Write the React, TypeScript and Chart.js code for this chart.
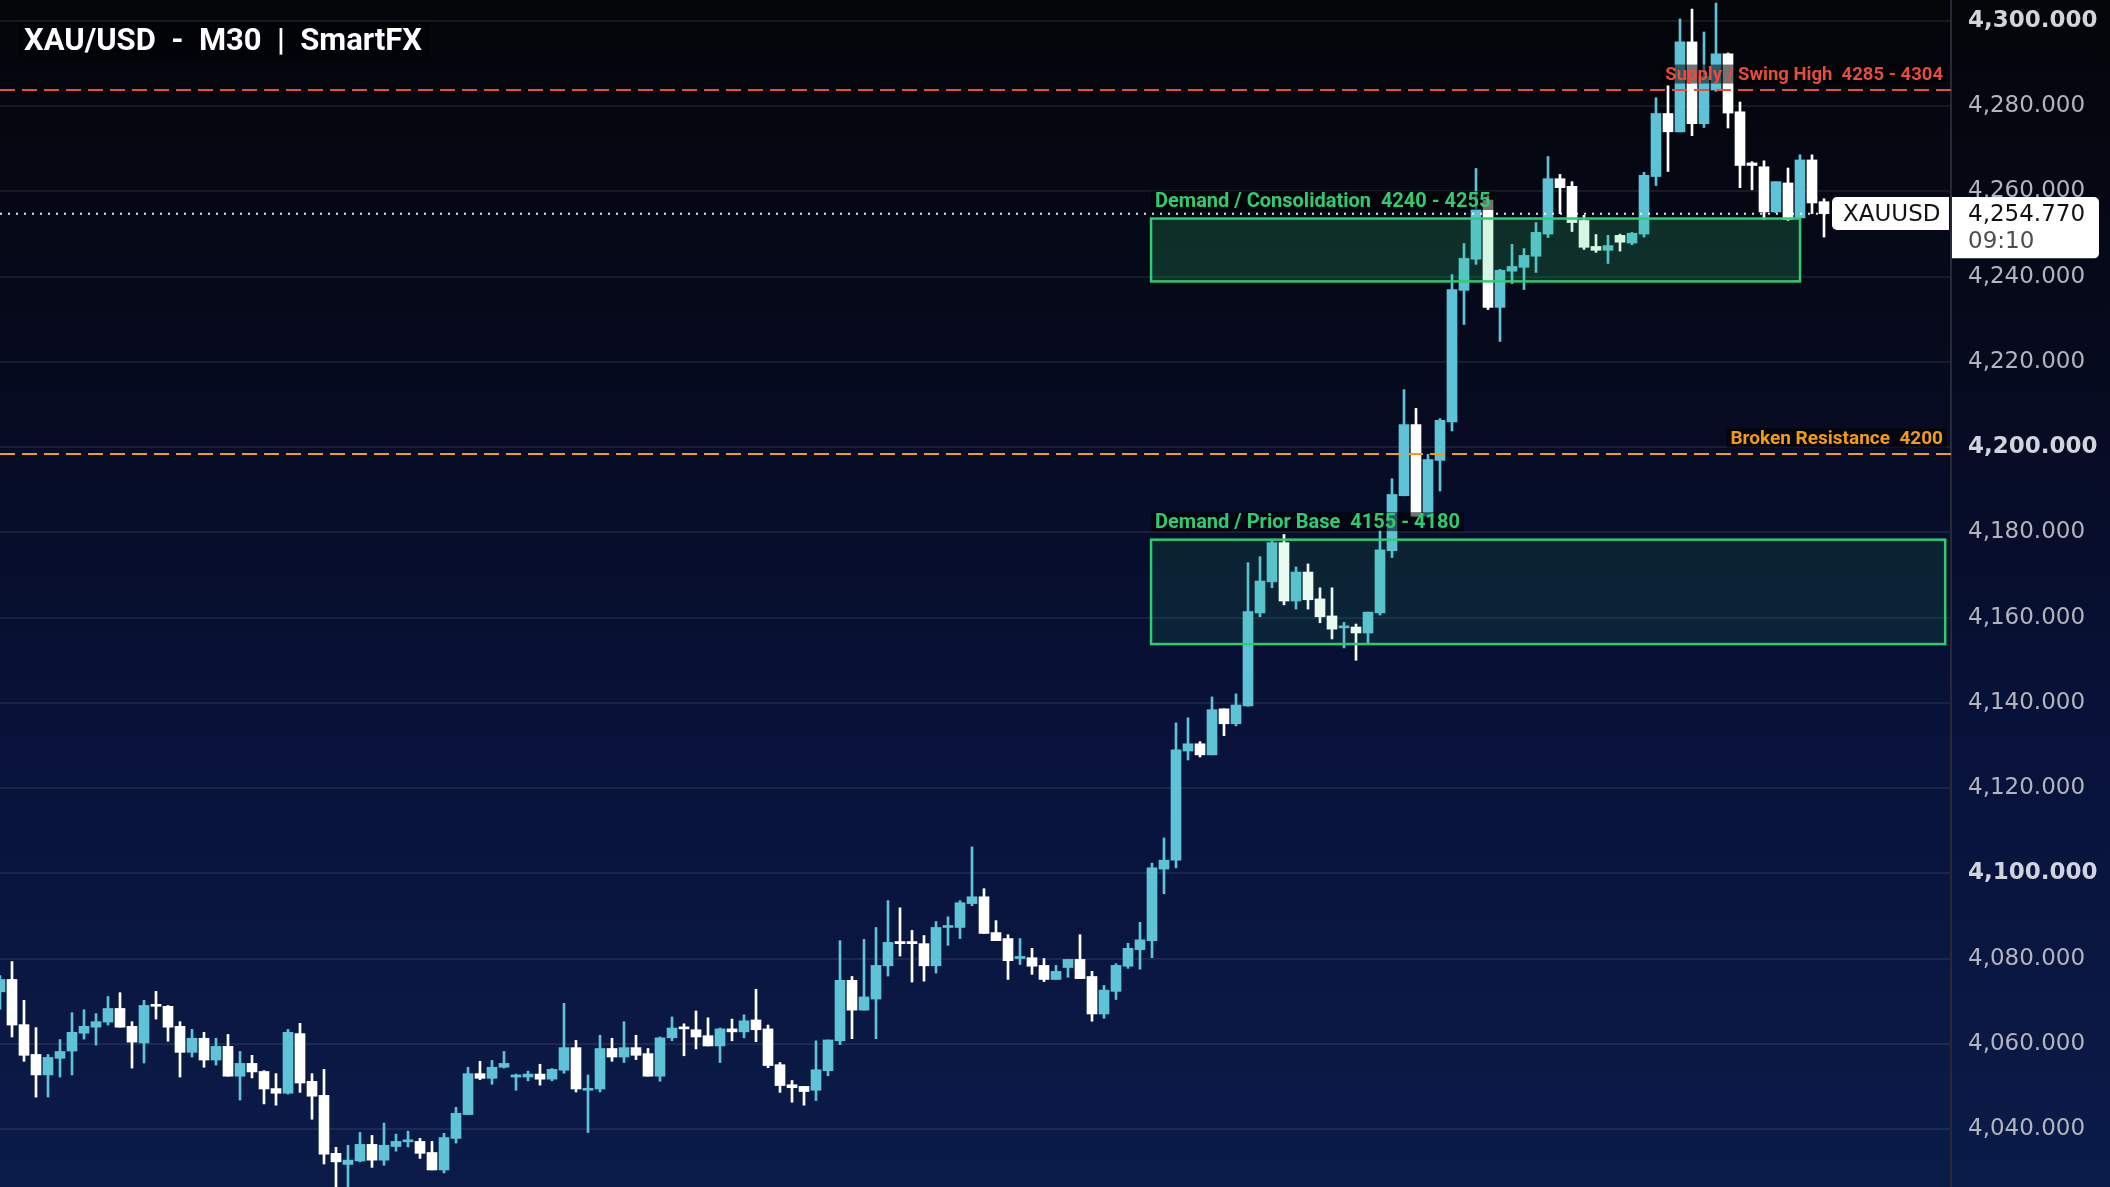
import React, { useEffect, useRef } from 'react';
import { Chart, registerables } from 'chart.js';

Chart.register(...registerables);

// ---- data (M30 candles, index = bar number) ----
const OPEN = [
  4072.2, 4075.1, 4064.5, 4057.5, 4052.7, 4056.6, 4058.3, 4062.5, 4063.9, 4065.1,
  4068.3, 4064.1, 4060.2, 4069.2, 4068.8, 4064.1, 4058.0, 4061.3, 4056.2, 4059.4,
  4052.4, 4055.4, 4053.5, 4049.5, 4048.4, 4062.4, 4051.2, 4047.9, 4034.3, 4031.7,
  4032.5, 4036.4, 4032.7, 4035.9, 4037.0, 4037.1, 4034.5, 4030.4, 4037.8, 4043.4,
  4053.0, 4051.9, 4054.5, 4052.2, 4052.2, 4052.9, 4051.7, 4053.8, 4059.1, 4049.1,
  4049.4, 4058.9, 4056.9, 4059.1, 4057.7, 4052.4, 4061.4, 4063.9, 4063.3, 4061.9,
  4059.5, 4063.5, 4062.8, 4065.6, 4063.5, 4055.1, 4050.4, 4050.0, 4049.1, 4053.7,
  4060.7, 4074.9, 4067.9, 4070.5, 4078.3, 4084.0, 4084.0, 4083.5, 4078.3, 4087.3,
  4087.3, 4092.9, 4094.5, 4086.1, 4084.7, 4080.0, 4080.2, 4078.4, 4075.1, 4077.9,
  4079.8, 4075.8, 4067.0, 4072.3, 4078.2, 4082.1, 4084.2, 4101.0, 4103.1, 4128.7,
  4130.4, 4127.8, 4138.6, 4135.1, 4139.3, 4161.1, 4168.4, 4177.6, 4163.9, 4170.7,
  4164.4, 4160.4, 4157.6, 4157.8, 4156.4, 4161.1, 4175.7, 4188.6, 4205.3, 4183.8,
  4196.9, 4205.9, 4236.8, 4244.1, 4258.0, 4232.8, 4241.3, 4242.2, 4244.8, 4250.0,
  4263.0, 4261.2, 4253.2, 4247.1, 4246.2, 4249.7, 4247.9, 4250.0, 4263.5, 4278.3,
  4274.0, 4295.1, 4275.9, 4283.8, 4292.3, 4278.7, 4266.7, 4265.8, 4255.2, 4262.0,
  4253.8, 4267.4, 4257.6,
];
const HIGH = [
  4076.0, 4079.3, 4070.2, 4063.8, 4057.5, 4061.0, 4067.3, 4068.0, 4067.1, 4071.1,
  4072.0, 4065.2, 4070.2, 4072.3, 4069.0, 4065.2, 4063.4, 4062.7, 4061.3, 4062.2,
  4058.2, 4057.3, 4053.7, 4053.0, 4063.4, 4064.8, 4053.0, 4054.0, 4035.7, 4036.2,
  4039.2, 4038.5, 4041.4, 4038.8, 4039.5, 4037.8, 4037.1, 4039.0, 4045.1, 4054.5,
  4055.9, 4056.1, 4058.2, 4052.9, 4053.6, 4055.2, 4054.2, 4069.5, 4060.8, 4052.7,
  4062.0, 4061.3, 4065.2, 4062.0, 4058.9, 4061.6, 4066.3, 4064.7, 4067.7, 4066.1,
  4063.7, 4065.8, 4066.8, 4072.8, 4064.4, 4055.6, 4051.4, 4050.0, 4060.7, 4060.9,
  4084.2, 4075.8, 4084.5, 4087.3, 4093.6, 4091.9, 4086.6, 4085.4, 4088.7, 4089.8,
  4093.6, 4106.2, 4096.4, 4088.9, 4085.6, 4084.7, 4082.4, 4080.0, 4078.4, 4079.8,
  4085.6, 4077.0, 4073.7, 4078.8, 4083.6, 4088.5, 4102.4, 4108.3, 4135.3, 4136.5,
  4130.9, 4141.4, 4138.6, 4142.1, 4172.9, 4174.3, 4178.0, 4179.5, 4171.9, 4172.6,
  4167.0, 4167.0, 4158.9, 4158.5, 4161.3, 4180.4, 4192.6, 4213.5, 4209.1, 4198.3,
  4206.7, 4240.5, 4247.8, 4265.4, 4259.0, 4241.7, 4247.6, 4246.6, 4252.7, 4268.2,
  4264.0, 4262.3, 4254.4, 4249.9, 4249.7, 4250.0, 4250.4, 4264.5, 4282.0, 4284.8,
  4300.5, 4302.8, 4297.4, 4304.2, 4292.5, 4281.0, 4267.0, 4267.2, 4262.3, 4265.5,
  4268.6, 4268.6, 4258.3,
];
const LOW = [
  4068.1, 4061.6, 4055.9, 4047.5, 4047.5, 4052.2, 4052.7, 4061.1, 4059.7, 4064.4,
  4063.9, 4054.3, 4055.5, 4065.8, 4060.6, 4052.2, 4056.9, 4054.5, 4055.0, 4052.4,
  4046.8, 4052.0, 4045.9, 4045.6, 4048.2, 4048.6, 4042.3, 4031.8, 4024.0, 4024.0,
  4032.3, 4031.0, 4031.5, 4034.8, 4035.8, 4033.1, 4030.4, 4029.7, 4036.7, 4043.4,
  4051.6, 4050.5, 4054.3, 4049.1, 4051.3, 4050.3, 4051.3, 4053.1, 4048.7, 4039.2,
  4048.7, 4055.9, 4055.6, 4056.3, 4052.4, 4051.2, 4060.7, 4057.2, 4058.8, 4059.5,
  4055.6, 4060.7, 4061.4, 4060.5, 4054.4, 4048.6, 4046.3, 4045.6, 4046.7, 4052.5,
  4059.8, 4061.2, 4067.9, 4061.2, 4075.9, 4080.6, 4074.5, 4074.7, 4076.6, 4083.1,
  4084.7, 4092.4, 4085.9, 4084.2, 4075.1, 4078.6, 4076.3, 4074.6, 4075.1, 4075.6,
  4075.3, 4065.3, 4066.0, 4070.4, 4077.7, 4077.5, 4080.2, 4095.2, 4101.3, 4126.6,
  4127.3, 4127.8, 4132.3, 4134.6, 4139.2, 4160.2, 4167.0, 4163.0, 4162.0, 4162.0,
  4158.8, 4155.0, 4152.9, 4150.0, 4154.0, 4160.6, 4174.1, 4188.6, 4183.8, 4183.5,
  4189.7, 4203.8, 4228.8, 4242.9, 4232.3, 4224.8, 4238.4, 4237.0, 4241.0, 4249.2,
  4254.8, 4250.6, 4246.4, 4245.7, 4243.1, 4246.0, 4247.5, 4249.3, 4261.4, 4264.7,
  4274.0, 4273.1, 4275.0, 4283.5, 4274.9, 4260.9, 4260.4, 4253.4, 4255.0, 4253.2,
  4253.8, 4254.8, 4249.3,
];
const CLOSE = [
  4075.1, 4064.4, 4057.3, 4052.7, 4056.8, 4058.2, 4062.7, 4064.1, 4065.2, 4068.3,
  4063.9, 4060.4, 4069.0, 4068.8, 4063.9, 4058.0, 4061.3, 4056.2, 4059.4, 4052.4,
  4055.4, 4053.4, 4049.4, 4048.4, 4062.7, 4050.8, 4047.7, 4034.1, 4032.3, 4032.7,
  4036.4, 4032.7, 4036.2, 4037.1, 4037.4, 4034.3, 4030.4, 4038.0, 4043.7, 4053.0,
  4051.9, 4054.5, 4055.4, 4052.7, 4052.9, 4051.7, 4054.0, 4059.1, 4049.4, 4049.5,
  4058.9, 4056.9, 4059.1, 4057.3, 4052.4, 4061.4, 4063.7, 4063.5, 4061.6, 4059.5,
  4063.5, 4062.8, 4065.4, 4063.3, 4054.9, 4050.2, 4049.7, 4048.8, 4053.9, 4060.9,
  4074.9, 4067.9, 4071.0, 4078.4, 4083.8, 4083.5, 4083.5, 4078.3, 4087.3, 4087.7,
  4093.1, 4094.5, 4085.9, 4084.2, 4079.5, 4080.5, 4078.2, 4075.1, 4077.0, 4079.8,
  4075.3, 4067.0, 4072.6, 4078.4, 4082.4, 4084.4, 4101.3, 4103.1, 4129.0, 4130.4,
  4127.8, 4138.4, 4135.1, 4139.5, 4161.4, 4168.6, 4177.6, 4163.9, 4170.7, 4164.2,
  4160.2, 4157.3, 4158.0, 4156.4, 4161.3, 4175.9, 4188.9, 4205.3, 4183.8, 4197.1,
  4206.3, 4237.0, 4244.3, 4255.8, 4232.8, 4241.5, 4242.4, 4245.0, 4250.4, 4263.0,
  4260.9, 4252.7, 4246.9, 4246.2, 4247.3, 4248.1, 4250.2, 4263.8, 4278.3, 4274.0,
  4295.1, 4275.9, 4287.0, 4292.3, 4278.4, 4266.1, 4266.1, 4255.2, 4262.3, 4253.4,
  4267.4, 4257.3, 4254.8,
];

// ---- annotations ----
const TITLE = 'XAU/USD  -  M30  |  SmartFX';
const BOLD_TICKS = [4300, 4200, 4100];
const LEVEL_VALUES = [4283.8, 4198.4];
const LEVEL_LABELS = ['Supply / Swing High  4285 - 4304', 'Broken Resistance  4200'];
const LEVEL_COLORS = ['#e74c3c', '#f39c12'];
const LEVEL_FONT = [18.5, 19];
const ZONE_FROM = [95.92, 95.92];
const ZONE_TO = [150, 162.1];
const ZONE_HIGH = [4253.65, 4178.3];
const ZONE_LOW = [4238.9, 4153.8];
const ZONE_LABELS = ['Demand / Consolidation  4240 - 4255', 'Demand / Prior Base  4155 - 4180'];
const ZONE_ALPHA = [0.2, 0.11];
const ZONE_FONT = [20, 20];
const LAST_PRICE = 4254.77;
const LAST_PRICE_TEXT = '4,254.770';
const COUNTDOWN = '09:10';
const SYMBOL = 'XAUUSD';

const Y_MIN = 4026.4;
const Y_MAX = 4304.93;

const UP = '#5fc3d7';
const DOWN = '#ffffff';
const GREEN = '#2ecc71';

const overlayPlugin = {
  id: 'overlay',
  beforeDraw(chart: any) {
    const { ctx, width, height } = chart;
    const g = ctx.createLinearGradient(0, 0, 0, height);
    g.addColorStop(0, '#040509');
    g.addColorStop(0.3, '#060a1d');
    g.addColorStop(0.62, '#08123a');
    g.addColorStop(1, '#0b1b48');
    ctx.save();
    ctx.fillStyle = g;
    ctx.fillRect(0, 0, width, height);
    ctx.restore();
  },
  afterDatasetsDraw(chart: any) {
    const { ctx, chartArea } = chart;
    const xs = chart.scales.x;
    const ys = chart.scales.y;
    ctx.save();
    ctx.beginPath();
    ctx.rect(chartArea.left, chartArea.top, chartArea.right - chartArea.left, chartArea.bottom - chartArea.top);
    ctx.clip();

    // zones
    for (let i = 0; i < ZONE_FROM.length; i++) {
      const x0 = xs.getPixelForValue(ZONE_FROM[i]);
      const x1 = xs.getPixelForValue(ZONE_TO[i]);
      const y0 = ys.getPixelForValue(ZONE_HIGH[i]);
      const y1 = ys.getPixelForValue(ZONE_LOW[i]);
      ctx.fillStyle = `rgba(46,204,113,${ZONE_ALPHA[i]})`;
      ctx.fillRect(x0, y0, x1 - x0, y1 - y0);
      ctx.strokeStyle = GREEN;
      ctx.lineWidth = 2.5;
      ctx.strokeRect(x0, y0, x1 - x0, y1 - y0);
    }

    // level lines
    for (let i = 0; i < LEVEL_VALUES.length; i++) {
      const y = ys.getPixelForValue(LEVEL_VALUES[i]);
      ctx.strokeStyle = LEVEL_COLORS[i];
      ctx.lineWidth = 2;
      ctx.setLineDash([15, 7]);
      ctx.beginPath();
      ctx.moveTo(chartArea.left, y);
      ctx.lineTo(chartArea.right, y);
      ctx.stroke();
    }

    // last price dotted line
    const py = ys.getPixelForValue(LAST_PRICE);
    ctx.strokeStyle = 'rgba(255,255,255,0.9)';
    ctx.lineWidth = 2;
    ctx.setLineDash([2, 6]);
    ctx.beginPath();
    ctx.moveTo(chartArea.left, py);
    ctx.lineTo(chartArea.right, py);
    ctx.stroke();
    ctx.setLineDash([]);

    // labels
    const drawLabel = (text: string, x: number, yc: number, color: string, align: string, size: number) => {
      ctx.font = `bold ${size}px Roboto`;
      const w = ctx.measureText(text).width;
      const left = align === 'left' ? x : x - w;
      ctx.fillStyle = 'rgba(0,0,0,0.55)';
      ctx.fillRect(left - 4, yc - 9.5, w + 8, 19);
      ctx.fillStyle = color;
      ctx.textAlign = 'left';
      ctx.textBaseline = 'middle';
      ctx.fillText(text, left, yc + 1);
    };
    for (let i = 0; i < ZONE_FROM.length; i++) {
      const x0 = xs.getPixelForValue(ZONE_FROM[i]);
      const y0 = ys.getPixelForValue(ZONE_HIGH[i]);
      drawLabel(ZONE_LABELS[i], x0 + 4, y0 - 18, GREEN, 'left', ZONE_FONT[i]);
    }
    for (let i = 0; i < LEVEL_VALUES.length; i++) {
      const y = ys.getPixelForValue(LEVEL_VALUES[i]);
      drawLabel(LEVEL_LABELS[i], chartArea.right - 8, y - 16, LEVEL_COLORS[i], 'right', LEVEL_FONT[i]);
    }

    // title
    ctx.font = 'bold 31px Roboto';
    const tw = ctx.measureText(TITLE).width;
    ctx.fillStyle = 'rgba(0,0,0,0.35)';
    ctx.fillRect(18, 22, tw + 14, 38);
    ctx.fillStyle = '#ffffff';
    ctx.textAlign = 'left';
    ctx.textBaseline = 'middle';
    ctx.fillText(TITLE, 24, 42);
    ctx.restore();
  },
  afterDraw(chart: any) {
    const { ctx, chartArea } = chart;
    const ys = chart.scales.y;
    const py = ys.getPixelForValue(LAST_PRICE);
    ctx.save();
    // price tag on axis
    const bx = chartArea.right + 1;
    ctx.fillStyle = '#ffffff';
    ctx.beginPath();
    if (ctx.roundRect) ctx.roundRect(bx, py - 16.7, 2099 - bx, 61.3, [0, 5, 5, 0]);
    else ctx.rect(bx, py - 16.7, 2099 - bx, 61.3);
    ctx.fill();
    ctx.font = '23px "DejaVu Sans"';
    ctx.textAlign = 'left';
    ctx.textBaseline = 'middle';
    ctx.fillStyle = '#111111';
    ctx.fillText(LAST_PRICE_TEXT, chartArea.right + 17, py + 1);
    ctx.fillStyle = '#4d4d4d';
    ctx.fillText(COUNTDOWN, chartArea.right + 17, py + 28);
    // symbol tag
    const sx = chartArea.right - 119;
    ctx.fillStyle = '#ffffff';
    ctx.beginPath();
    if (ctx.roundRect) ctx.roundRect(sx, py - 16.7, 117, 33, [5, 0, 0, 5]);
    else ctx.rect(sx, py - 16.7, 117, 33);
    ctx.fill();
    ctx.fillStyle = '#111111';
    ctx.fillText(SYMBOL, sx + 11, py + 1);
    ctx.restore();
  },
};

export default function App() {
  const ref = useRef<HTMLCanvasElement>(null);
  useEffect(() => {
    document.body.style.margin = '0';
    document.documentElement.style.overflow = 'hidden';
    const canvas = ref.current;
    if (!canvas) return;
    const idx = OPEN.map((_, i) => i);
    const colors = idx.map((i) => (CLOSE[i] >= OPEN[i] ? UP : DOWN));
    const chart = new Chart(canvas, {
      type: 'bar',
      data: {
        datasets: [
          {
            label: 'body',
            data: idx.map((i) => ({ x: i, y: [OPEN[i], CLOSE[i]] })) as any,
            backgroundColor: colors,
            borderWidth: 0,
            barThickness: 10,
            minBarLength: 2,
            grouped: false,
            order: 1,
          } as any,
          {
            label: 'wick',
            data: idx.map((i) => ({ x: i, y: [LOW[i], HIGH[i]] })) as any,
            backgroundColor: colors,
            borderWidth: 0,
            barThickness: 2,
            grouped: false,
            order: 2,
          } as any,
        ],
      },
      options: {
        responsive: false,
        animation: false,
        events: [],
        layout: { padding: 0 },
        plugins: { legend: { display: false }, tooltip: { enabled: false }, title: { display: false } },
        scales: {
          x: {
            type: 'linear',
            min: 0,
            max: 1951 / 12,
            offset: false,
            display: false,
          },
          y: {
            position: 'right',
            min: Y_MIN,
            max: Y_MAX,
            afterFit(scale: any) {
              scale.width = 159;
              scale.paddingTop = 0;
              scale.paddingBottom = 0;
            },
            grid: { color: 'rgba(255,255,255,0.075)', lineWidth: 2, drawTicks: false },
            border: { display: true, color: '#262a36', width: 2 },
            ticks: {
              stepSize: 20,
              includeBounds: false,
              padding: 17,
              autoSkip: false,
              color: (c: any) => (c.tick && BOLD_TICKS.includes(c.tick.value) ? '#d1d4dc' : '#b2b5be'),
              font: (c: any) => ({
                family: 'DejaVu Sans',
                size: 23,
                weight: c.tick && BOLD_TICKS.includes(c.tick.value) ? 'bold' : 'normal',
              }),
              callback: (v: any) =>
                Number(v).toLocaleString('en-US', { minimumFractionDigits: 3, maximumFractionDigits: 3 }),
            },
          },
        },
      } as any,
      plugins: [overlayPlugin],
    });
    return () => chart.destroy();
  }, []);
  return (
    <div style={{ width: 2110, height: 1187, position: 'relative' }}>
      <canvas ref={ref} width={2110} height={1187} style={{ display: 'block', width: 2110, height: 1187 }} />
    </div>
  );
}
